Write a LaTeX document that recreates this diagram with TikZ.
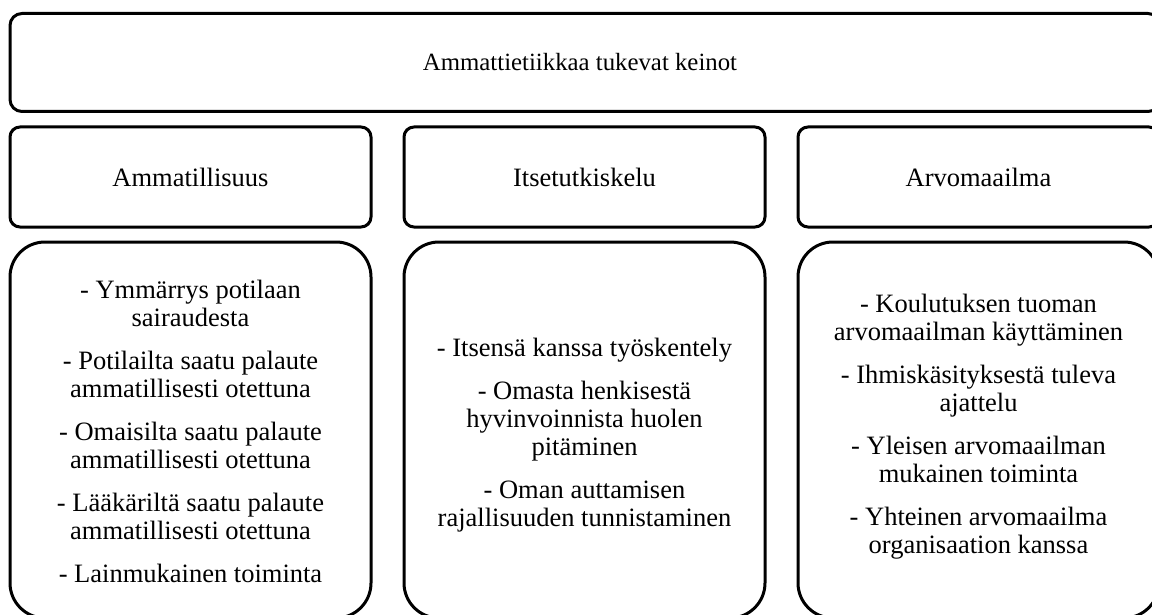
\documentclass[tikz,border=0pt]{standalone}
\usepackage{fontspec}
\setmainfont{Liberation Serif}
\begin{document}
\begin{tikzpicture}[x=1pt,y=-1pt,
  box/.style={draw=black, line width=3pt, rounded corners=#1, inner sep=0pt,
    align=center, font=\fontsize{26.5}{28}\selectfont},
  titlebox/.style={box=12pt, minimum width=1150pt, minimum height=98pt},
  titletext/.style={inner sep=0pt, font=\fontsize{24.8}{28}\selectfont},
  headbox/.style={box=10pt, minimum width=361pt, minimum height=100pt},
  listbox/.style={box=35pt, minimum width=361pt, minimum height=376pt},
  listtext/.style={inner sep=0pt, align=center, font=\fontsize{26.5}{28}\selectfont}]
\useasboundingbox (0,0) rectangle (1152,615);
\clip (0,0) rectangle (1152,615);

% title
\node[titlebox] (title) at (585,62.5) {};
\node[titletext] (tt) at ([xshift=-5pt]title.center) {Ammattietiikkaa tukevat keinot};

% column headings
\node[headbox] (h1) at (190.5,177) {Ammatillisuus};
\node[headbox] (h2) at (584.5,177) {Itsetutkiskelu};
\node[headbox] (h3) at (978.5,177) {Arvomaailma};

% column frames
\node[listbox] (l1) at (190.5,430) {};
\node[listbox] (l2) at (584.5,430) {};
\node[listbox] (l3) at (978.5,430) {};

% column contents
\node[listtext] (t1) at ([yshift=-1pt]l1.center) {%
  - Ymmärrys potilaan\\ sairaudesta\\[15pt]
  - Potilailta saatu palaute\\ ammatillisesti otettuna\\[15pt]
  - Omaisilta saatu palaute\\ ammatillisesti otettuna\\[15pt]
  - Lääkäriltä saatu palaute\\ ammatillisesti otettuna\\[15pt]
  - Lainmukainen toiminta};
\node[listtext] (t2) at ([yshift=-5pt]l2.center) {%
  - Itsensä kanssa työskentely\\[15pt]
  - Omasta henkisestä\\ hyvinvoinnista huolen\\ pitäminen\\[15pt]
  - Oman auttamisen\\ rajallisuuden tunnistaminen};
\node[listtext] (t3) at ([yshift=3pt]l3.center) {%
  - Koulutuksen tuoman\\ arvomaailman käyttäminen\\[15pt]
  - Ihmiskäsityksestä tuleva\\ ajattelu\\[15pt]
  - Yleisen arvomaailman\\ mukainen toiminta\\[15pt]
  - Yhteinen arvomaailma\\ organisaation kanssa};
\end{tikzpicture}
\end{document}
